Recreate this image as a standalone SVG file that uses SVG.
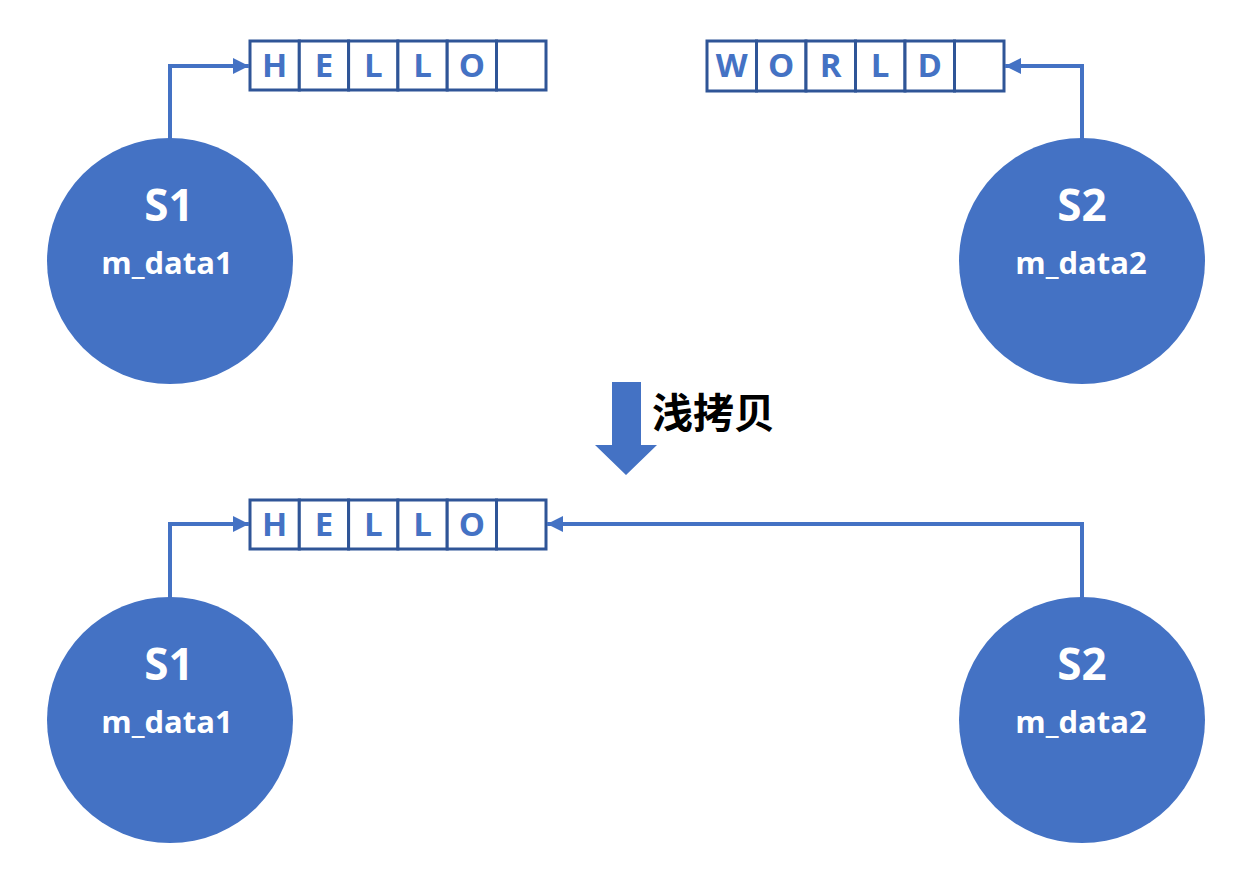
<svg xmlns="http://www.w3.org/2000/svg" width="1254" height="878" viewBox="0 0 1254 878">
  <defs>
    <marker id="arrow" viewBox="0 0 10 10" refX="10" refY="5" markerWidth="4" markerHeight="4" markerUnits="strokeWidth" orient="auto">
      <path d="M0,0 L10,5 L0,10 z" fill="#4472C4"/>
    </marker>
  </defs>
  <style>
    .node circle { fill: #4472C4; }
    .name { fill: #fff; font-family: "Open Sans", "Noto Sans", "Liberation Sans", sans-serif; font-weight: 700; font-size: 44px; text-anchor: middle; }
    .field { fill: #fff; font-family: "Open Sans", "Noto Sans", "Liberation Sans", sans-serif; font-weight: 700; font-size: 31px; text-anchor: middle; }
    .cell { fill: #fff; stroke: #2F5597; stroke-width: 3; }
    .ch { fill: #4472C4; font-family: "Open Sans", "Noto Sans", "Liberation Sans", sans-serif; font-weight: 700; font-size: 33px; text-anchor: middle; }
    .link { fill: none; stroke: #4472C4; stroke-width: 4; marker-end: url(#arrow); }
    .caption { fill: #000; font-family: "Noto Sans CJK SC", sans-serif; font-weight: 700; font-size: 41px; }
  </style>

  <rect width="1254" height="878" fill="#fff"/>

  <!-- character buffers -->
  <g id="buf-hello-top">
    <rect class="cell" x="250" y="41" width="49.3" height="49"/>
    <rect class="cell" x="299.3" y="41" width="49.3" height="49"/>
    <rect class="cell" x="348.6" y="41" width="49.3" height="49"/>
    <rect class="cell" x="397.9" y="41" width="49.3" height="49"/>
    <rect class="cell" x="447.2" y="41" width="49.3" height="49"/>
    <rect class="cell" x="496.5" y="41" width="49.5" height="49"/>
    <text class="ch" x="274.6" y="77">H</text>
    <text class="ch" x="324" y="77">E</text>
    <text class="ch" x="373.3" y="77">L</text>
    <text class="ch" x="422.6" y="77">L</text>
    <text class="ch" x="471.9" y="77">O</text>
  </g>

  <g id="buf-world-top">
    <rect class="cell" x="707" y="41" width="49.5" height="50"/>
    <rect class="cell" x="756.5" y="41" width="49.5" height="50"/>
    <rect class="cell" x="806" y="41" width="49.5" height="50"/>
    <rect class="cell" x="855.5" y="41" width="49.5" height="50"/>
    <rect class="cell" x="905" y="41" width="49.5" height="50"/>
    <rect class="cell" x="954.5" y="41" width="49.5" height="50"/>
    <text class="ch" x="731.7" y="77">W</text>
    <text class="ch" x="781.2" y="77">O</text>
    <text class="ch" x="830.7" y="77">R</text>
    <text class="ch" x="880.2" y="77">L</text>
    <text class="ch" x="929.7" y="77">D</text>
  </g>

  <g id="buf-hello-bottom">
    <rect class="cell" x="250" y="500" width="49.3" height="49"/>
    <rect class="cell" x="299.3" y="500" width="49.3" height="49"/>
    <rect class="cell" x="348.6" y="500" width="49.3" height="49"/>
    <rect class="cell" x="397.9" y="500" width="49.3" height="49"/>
    <rect class="cell" x="447.2" y="500" width="49.3" height="49"/>
    <rect class="cell" x="496.5" y="500" width="49.5" height="49"/>
    <text class="ch" x="274.6" y="536">H</text>
    <text class="ch" x="324" y="536">E</text>
    <text class="ch" x="373.3" y="536">L</text>
    <text class="ch" x="422.6" y="536">L</text>
    <text class="ch" x="471.9" y="536">O</text>
  </g>

  <!-- pointers -->
  <g id="connectors">
    <path class="link" d="M170,140 V66 H249"/>
    <path class="link" d="M1082,140 V66 H1005"/>
    <path class="link" d="M170,599 V524 H249"/>
    <path class="link" d="M1082,599 V524 H547"/>
  </g>

  <!-- objects -->
  <g id="s1-top" class="node">
    <circle cx="170" cy="261" r="123"/>
    <text class="name" x="169" y="221">S1</text>
    <text class="field" x="167" y="274">m_data1</text>
  </g>
  <g id="s2-top" class="node">
    <circle cx="1082" cy="261" r="123"/>
    <text class="name" x="1082" y="221">S2</text>
    <text class="field" x="1081" y="274">m_data2</text>
  </g>
  <g id="s1-bottom" class="node">
    <circle cx="170" cy="720" r="123"/>
    <text class="name" x="169" y="680">S1</text>
    <text class="field" x="167" y="733">m_data1</text>
  </g>
  <g id="s2-bottom" class="node">
    <circle cx="1082" cy="720" r="123"/>
    <text class="name" x="1082" y="680">S2</text>
    <text class="field" x="1081" y="733">m_data2</text>
  </g>

  <!-- transition -->
  <g id="shallow-copy">
    <path d="M612,382 H641 V445 H657 L626,475 L595,445 H612 Z" fill="#4472C4"/>
    <text class="caption" x="652" y="428">浅拷贝</text>
  </g>
</svg>
